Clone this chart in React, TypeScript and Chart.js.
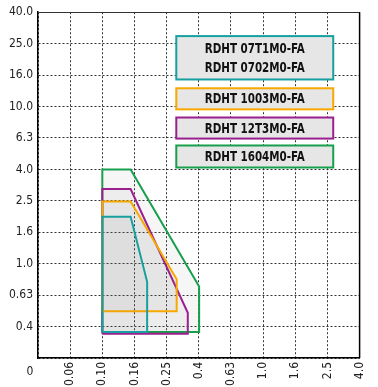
import React, { useEffect, useRef } from 'react';
import { Chart, registerables } from 'chart.js';

Chart.register(...registerables);

// Tick labels (evenly spaced, log-like progression)
const xTickLabels = ['0', '0.06', '0.10', '0.16', '0.25', '0.4', '0.63', '1.0', '1.6', '2.5', '4.0'];
const yTickLabels = ['0', '0.4', '0.63', '1.0', '1.6', '2.5', '4.0', '6.3', '10.0', '16.0', '25.0', '40.0'];

// Application areas (x = feed, y = depth of cut)
const tealX = [0.10, 0.10, 0.15, 0.19, 0.19, 0.10];
const tealY = [0.37, 2.0, 2.0, 0.77, 0.37, 0.37];
const orangeX = [0.10, 0.10, 0.15, 0.29, 0.29, 0.10];
const orangeY = [0.50, 2.5, 2.5, 0.80, 0.50, 0.50];
const purpleX = [0.10, 0.10, 0.15, 0.34, 0.34, 0.10];
const purpleY = [0.36, 3.0, 3.0, 0.49, 0.36, 0.36];
const greenX = [0.10, 0.10, 0.15, 0.40, 0.40, 0.10];
const greenY = [0.37, 4.0, 4.0, 0.72, 0.37, 0.37];

const seriesNames = [
  ['RDHT 07T1M0-FA', 'RDHT 0702M0-FA'],
  ['RDHT 1003M0-FA'],
  ['RDHT 12T3M0-FA'],
  ['RDHT 1604M0-FA'],
];
const seriesColors = ['#17a0a0', '#f9a800', '#9b1f8f', '#17a04c'];

// value -> index position on the evenly spaced axes
const xIdx = (v: number) => (v <= 0 ? 0 : 2 + 5 * Math.log10(v / 0.1));
const yIdx = (v: number) => (v <= 0 ? 0 : 1 + 5 * Math.log10(v / 0.4));

const toPts = (xs: number[], ys: number[]) => xs.map((x, i) => ({ x: xIdx(x), y: yIdx(ys[i]) }));

const FONT = '"DejaVu Sans Condensed", "Liberation Sans Narrow", sans-serif';

const overlayPlugin = {
  id: 'overlay',
  afterDraw(chart: any) {
    const { ctx, chartArea, scales } = chart;
    const xs = scales.x;
    const ys = scales.y;
    ctx.save();
    // frame: top & right
    ctx.setLineDash([]);
    ctx.strokeStyle = '#333';
    ctx.lineWidth = 1;
    ctx.beginPath();
    ctx.moveTo(chartArea.left, Math.round(chartArea.top) + 0.5);
    ctx.lineTo(chartArea.right, Math.round(chartArea.top) + 0.5);
    ctx.stroke();
    ctx.strokeStyle = '#000';
    ctx.lineWidth = 1.5;
    ctx.beginPath();
    ctx.moveTo(chartArea.right, chartArea.top);
    ctx.lineTo(chartArea.right, chartArea.bottom);
    ctx.stroke();

    // "0" origin label
    ctx.fillStyle = '#222';
    ctx.font = `12px ${FONT}`;
    ctx.textAlign = 'center';
    ctx.textBaseline = 'middle';
    ctx.fillText(xTickLabels[0], chartArea.left - 8, chartArea.bottom + 14);

    // legend boxes
    const boxes = [
      [10.24, 8.86],
      [8.58, 7.91],
      [7.65, 6.98],
      [6.76, 6.06],
    ];
    const x0 = xs.getPixelForValue(4.3);
    const x1 = xs.getPixelForValue(9.18);
    boxes.forEach((b, i) => {
      const y0 = ys.getPixelForValue(b[0]);
      const y1 = ys.getPixelForValue(b[1]);
      ctx.fillStyle = '#e6e6e6';
      ctx.fillRect(x0, y0, x1 - x0, y1 - y0);
      ctx.strokeStyle = seriesColors[i];
      ctx.lineWidth = 2;
      ctx.strokeRect(x0, y0, x1 - x0, y1 - y0);
      const lines = seriesNames[i];
      const cy = (y0 + y1) / 2;
      const lh = 18.4;
      ctx.fillStyle = '#111';
      ctx.font = `bold 14px ${FONT}`;
      lines.forEach((t, j) => {
        const y = cy + (j - (lines.length - 1) / 2) * lh;
        ctx.save();
        ctx.translate((x0 + x1) / 2, y + 1);
        ctx.scale(0.82, 1);
        ctx.fillText(t, 0, 0);
        ctx.restore();
      });
    });
    ctx.restore();
  },
};

export default function App() {
  const ref = useRef<HTMLCanvasElement>(null);
  useEffect(() => {
    if (!ref.current) return;
    const mk = (i: number, xs: number[], ys: number[]) => ({
      label: seriesNames[i].join(' / '),
      data: toPts(xs, ys),
      borderColor: seriesColors[i],
      backgroundColor: 'rgba(100,100,100,0.06)',
      borderWidth: 2,
      pointRadius: 0,
      tension: 0,
      fill: 'shape',
    });
    const tickFont = { family: FONT, size: 12 };
    const chart = new Chart(ref.current, {
      type: 'line',
      data: {
        datasets: [
          mk(0, tealX, tealY),
          mk(1, orangeX, orangeY),
          mk(2, purpleX, purpleY),
          mk(3, greenX, greenY),
        ] as any,
      },
      options: {
        animation: false,
        responsive: true,
        maintainAspectRatio: false,
        layout: { padding: { top: 12, right: 10, left: 0, bottom: 0 } },
        plugins: { legend: { display: false }, tooltip: { enabled: false } },
        scales: {
          x: {
            type: 'linear',
            min: 0,
            max: 10,
            afterFit: (s: any) => {
              s.height = 29;
            },
            ticks: {
              stepSize: 1,
              autoSkip: false,
              minRotation: 90,
              maxRotation: 90,
              padding: 4,
              color: '#222',
              font: tickFont,
              callback: (v: any) => (v === 0 ? '' : xTickLabels[v] ?? ''),
            },
            grid: { color: '#333', lineWidth: 1, drawTicks: false },
            border: { display: true, color: '#000', width: 1.5, dash: [2, 2] },
          },
          y: {
            type: 'linear',
            min: 0,
            max: 11,
            afterFit: (s: any) => {
              s.width = 38;
            },
            ticks: {
              stepSize: 1,
              autoSkip: false,
              padding: 5,
              color: '#222',
              font: tickFont,
              callback: (v: any) => (v === 0 ? '' : yTickLabels[v] ?? ''),
            },
            grid: { color: '#333', lineWidth: 1, drawTicks: false },
            border: { display: true, color: '#000', width: 1.5, dash: [2, 2] },
          },
        },
      },
      plugins: [overlayPlugin],
    });
    return () => chart.destroy();
  }, []);
  return (
    <div style={{ position: 'fixed', left: 0, top: 0, width: 378, height: 387, background: '#fff' }}>
      <canvas ref={ref} />
    </div>
  );
}
